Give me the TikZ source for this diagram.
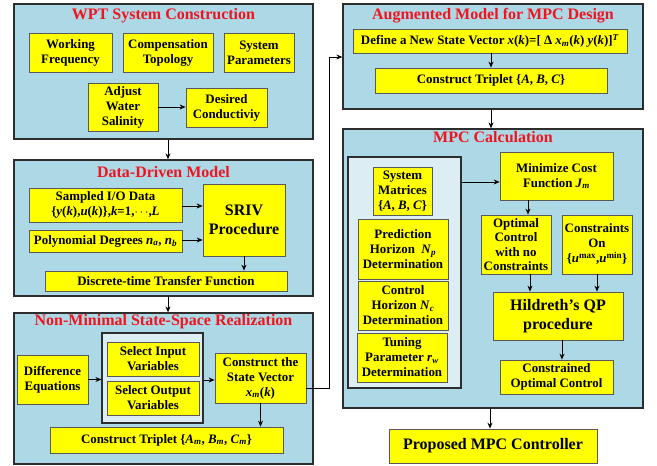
\documentclass[tikz,border=0pt]{standalone}
\usepackage{fontspec}
\setmainfont{Liberation Serif}
\usetikzlibrary{arrows.meta,calc}
\definecolor{panelblue}{RGB}{173,216,230}
\definecolor{innerblue}{RGB}{220,238,244}
\definecolor{boxyellow}{RGB}{255,255,0}
\definecolor{titlered}{RGB}{240,20,30}
\definecolor{edgegray}{RGB}{45,45,45}
\newcommand{\vi}[1]{\textit{#1}}
\begin{document}
\begin{tikzpicture}[x=1pt,y=-1pt,
  panel/.style={draw=edgegray,line width=1.3pt,fill=panelblue,inner sep=0pt},
  innerpanel/.style={draw=edgegray,line width=1.1pt,fill=innerblue,inner sep=0pt},
  ybox/.style={draw=black!65,line width=0.7pt,fill=boxyellow,align=center,inner sep=0pt,
    font=\fontsize{12.9}{15}\selectfont\bfseries},
  bigbox/.style={ybox,font=\fontsize{16}{19}\selectfont\bfseries},
  ptitle/.style={text=titlered,font=\fontsize{16}{19}\selectfont\bfseries,inner sep=0pt},
  arr/.style={-{Stealth[length=6pt,width=5pt]},line width=0.9pt,black}]
\useasboundingbox (0,0) rectangle (657,466);

% ---------- WPT System Construction ----------
\node[panel,minimum width=299,minimum height=135] (wpt) at (163.5,71.5) {};
\node[ptitle] (twpt) at (163.5,15.5) {WPT System Construction};
\node[ybox,minimum width=83,minimum height=39] (wf) at (70.5,52.5) {Working\\Frequency};
\node[ybox,minimum width=90,minimum height=39] (ct) at (168,52.5) {Compensation\\Topology};
\node[ybox,minimum width=70,minimum height=39] (sp) at (259,52.5) {System\\Parameters};
\node[ybox,minimum width=70,minimum height=48] (aws) at (123,107) {Adjust\\Water\\Salinity};
\node[ybox,minimum width=81,minimum height=39] (dc) at (226.5,107.5) {Desired\\Conductiviy};
\draw[arr] (aws.east) -- (aws.east -| dc.west);

% ---------- Data-Driven Model ----------
\node[panel,minimum width=299,minimum height=136] (dd) at (163.5,228) {};
\node[ptitle] (tdd) at (163.5,172) {Data-Driven Model};
\node[ybox,minimum width=153,minimum height=34] (sio) at (105.5,205)
  {Sampled I/O Data\\\{\vi{y}(\vi{k}),\vi{u}(\vi{k})\},\vi{k}=1,$\cdots$,\vi{L}};
\node[ybox,minimum width=153,minimum height=22] (poly) at (105.5,241)
  {Polynomial Degrees \vi{n}\textsubscript{\vi{a}}, \vi{n}\textsubscript{\vi{b}}};
\node[bigbox,minimum width=82,minimum height=72] (sriv) at (244,220) {SRIV\\Procedure};
\node[ybox,minimum width=242,minimum height=20] (dttf) at (166,281) {Discrete-time Transfer Function};
\draw[arr] ([yshift=-1pt]sio.east) -- ([yshift=-1pt]sio.east -| sriv.west);
\draw[arr] ([yshift=1pt]poly.east) -- ([yshift=1pt]poly.east -| sriv.west);
\draw[arr] (sriv.south) -- (sriv.south |- dttf.north);

% ---------- Non-Minimal State-Space Realization ----------
\node[panel,minimum width=299,minimum height=151] (nm) at (163.5,388.5) {};
\node[ptitle] (tnm) at (163.5,322) {Non-Minimal State-Space Realization};
\node[ybox,minimum width=71,minimum height=49] (de) at (52.5,379.5) {Difference\\Equations};
\node[innerpanel,minimum width=101,minimum height=90] (sel) at (152.5,378) {};
\node[ybox,minimum width=92,minimum height=34] (si) at (153,359) {Select Input\\Variables};
\node[ybox,minimum width=92,minimum height=34] (so) at (153,398) {Select Output\\Variables};
\node[ybox,minimum width=91,minimum height=50] (sv) at (260.5,378)
  {Construct the\\State Vector\\\vi{x}\textsubscript{\vi{m}}(\vi{k})};
\node[ybox,minimum width=233,minimum height=26] (tm) at (166.5,440)
  {Construct Triplet \{\vi{A}\textsubscript{\vi{m}}, \vi{B}\textsubscript{\vi{m}}, \vi{C}\textsubscript{\vi{m}}\}};
\draw[arr] (de.east) -- (de.east -| sel.west);
\draw[arr] ([yshift=-2pt]sel.east) -- ([yshift=-2pt]sel.east -| sv.west);
\draw[arr] (sv.south) -- (sv.south |- tm.north);

% ---------- Augmented Model ----------
\node[panel,minimum width=300,minimum height=105] (aug) at (493,56.5) {};
\node[ptitle] (taug) at (493,15.5) {Augmented Model for MPC Design};
\node[ybox,minimum width=274,minimum height=24] (nsv) at (490,41)
  {Define a New State Vector \vi{x}(\vi{k})=[ Δ \vi{x}\textsubscript{\vi{m}}(\vi{k}) \vi{y}(\vi{k})]\textsuperscript{\vi{T}}};
\node[ybox,minimum width=232,minimum height=25] (tabc) at (491,80.5)
  {Construct Triplet \{\vi{A}, \vi{B}, \vi{C}\}};
\draw[arr] (nsv.south -| tabc.north) -- (tabc.north);

% ---------- MPC Calculation ----------
\node[panel,minimum width=300,minimum height=279] (mpc) at (493,268.5) {};
\node[ptitle] (tmpc) at (493,137.5) {MPC Calculation};
\node[innerpanel,minimum width=113,minimum height=231] (ip) at (404.5,272.5) {};
\node[ybox,minimum width=59,minimum height=48] (sm) at (402.5,191) {System\\Matrices\\\{\vi{A}, \vi{B}, \vi{C}\}};
\node[ybox,minimum width=90,minimum height=60] (ph) at (403,249)
  {Prediction\\Horizon \ \vi{N}\textsubscript{\vi{p}}\\Determination};
\node[ybox,minimum width=90,minimum height=49] (ch) at (403,305.5)
  {Control\\Horizon \vi{N}\textsubscript{\vi{c}}\\Determination};
\node[ybox,minimum width=90,minimum height=49] (tp) at (402,357.5)
  {Tuning\\Parameter \vi{r}\textsubscript{\vi{w}}\\Determination};
\node[ybox,minimum width=113,minimum height=48] (mc) at (556.5,176)
  {Minimize Cost\\Function \vi{J}\textsubscript{\vi{m}}};
\node[ybox,minimum width=70,minimum height=59,font=\fontsize{12.9}{14.4}\selectfont\bfseries] (oc) at (516,244.5)
  {Optimal\\Control\\with no\\Constraints};
\node[ybox,minimum width=70,minimum height=59] (co) at (597,244.5)
  {Constraints\\On\\\{\vi{u}\textsuperscript{max},\vi{u}\textsuperscript{min}\}};
\node[bigbox,minimum width=130,minimum height=48] (hq) at (558,316) {Hildreth’s QP\\procedure};
\node[ybox,minimum width=113,minimum height=34] (coc) at (556.5,377) {Constrained\\Optimal Control};
\draw[arr] ([yshift=-6pt]mc.west -| ip.east) -- ([yshift=-6pt]mc.west);
\draw[arr] ([xshift=12pt]oc.north |- mc.south) -- ([xshift=12pt]oc.north);
\draw[arr] ([xshift=14pt]oc.south) -- ([xshift=14pt]oc.south |- hq.north);
\draw[arr] (co.south) -- (co.south |- hq.north);
\draw[arr] ([xshift=4pt]hq.south) -- ([xshift=4pt]hq.south |- coc.north);

% ---------- Proposed MPC Controller ----------
\node[bigbox,minimum width=208,minimum height=34] (pmc) at (493,446) {Proposed MPC Controller};

% ---------- connectors between panels ----------
\draw[arr] (wpt.south -| ct) -- (dd.north -| ct);
\draw[arr] (dd.south -| ct) -- (nm.north -| ct);
\coordinate (bend) at (329,57);
\draw[arr] ([yshift=-10pt]sv.east) -| (bend) -- (bend -| aug.west);
\draw[arr] (aug.south -| tabc) -- (mpc.north -| tabc);
\draw[arr] (mpc.south -| nsv) -- (pmc.north -| nsv);
\end{tikzpicture}
\end{document}
